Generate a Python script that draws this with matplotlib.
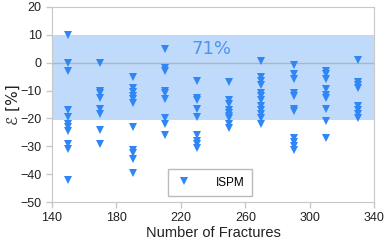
import matplotlib
matplotlib.use("Agg")
import matplotlib.pyplot as plt

plt.rcParams['font.family'] = ['Liberation Sans', 'DejaVu Sans']

# fracture counts and the error values measured at each one
fractures = [150, 170, 190, 210, 230, 250, 270, 290, 310, 330]
errors = [
    [10, 0, -3, -17, -19.5, -22, -23, -24.5, -29, -31, -42],
    [0, -10, -11, -12.5, -16.5, -18.5, -24, -29],
    [-5, -9, -10.5, -12, -13, -14.5, -23, -31.5, -32.5, -34.5, -39.5],
    [5, -2, -3, -10, -11, -13, -20, -22, -26],
    [-6.5, -12.5, -13.5, -16.5, -19.5, -26, -28, -29, -30.5],
    [-7, -13.5, -15, -17, -18, -19, -20, -22, -23.5],
    [0.5, -5, -6.5, -8, -11, -12, -13.5, -15.5, -17, -18.5, -20, -22],
    [-1, -4, -6, -11, -12, -16.5, -17.5, -27, -28.5, -30, -31.5],
    [-3, -4, -6, -9.5, -11.5, -12.5, -16.5, -21, -27],
    [1, -7, -8, -9, -15.5, -17, -18.5, -20],
]
band_lo, band_hi = -20.6, 10
band_label = "71%"

xs, ys = [], []
for f, vals in zip(fractures, errors):
    xs += [f] * len(vals)
    ys += vals

fig = plt.figure(figsize=(3.91, 2.47), dpi=100)
ax = fig.add_axes([0.133, 0.182, 0.824, 0.790])

ax.axhspan(band_lo, band_hi, color='#c0dafc', lw=0, zorder=0)
ax.axhline(0, color='#b4b4b4', lw=1, zorder=1)
ax.plot(xs, ys, 'v', color='#2f86f6', ms=6, mew=0, label='ISPM', zorder=3)
ax.text(239, 5, band_label, color='#4f95ec', fontsize=13, ha='center', va='center',
        family='DejaVu Sans')

ax.set_xlim(140, 340)
ax.set_ylim(-50, 20)
ax.set_xticks(range(140, 341, 40))
ax.set_yticks(range(-50, 21, 10))
for s in ax.spines.values():
    s.set_color('#c8c8c8')
ax.tick_params(colors='#c8c8c8', labelcolor='#222222', labelsize=9, length=4, width=1)
ax.set_xlabel('Number of Fractures', fontsize=10.5, color='#222222', labelpad=1)
ax.set_ylabel('ℰ [%]', fontsize=11, color='#222222', labelpad=0, family='DejaVu Sans')

leg = ax.legend(loc='center', bbox_to_anchor=(0.49, 0.10), fontsize=8.5, fancybox=False,
                edgecolor='#bbbbbb', framealpha=1, handletextpad=2.0, borderpad=0.3,
                handlelength=1.5, borderaxespad=0)
leg.get_frame().set_linewidth(1)
leg.get_frame().set_boxstyle('square', pad=0.3)

fig.savefig('out.png', dpi=100)
